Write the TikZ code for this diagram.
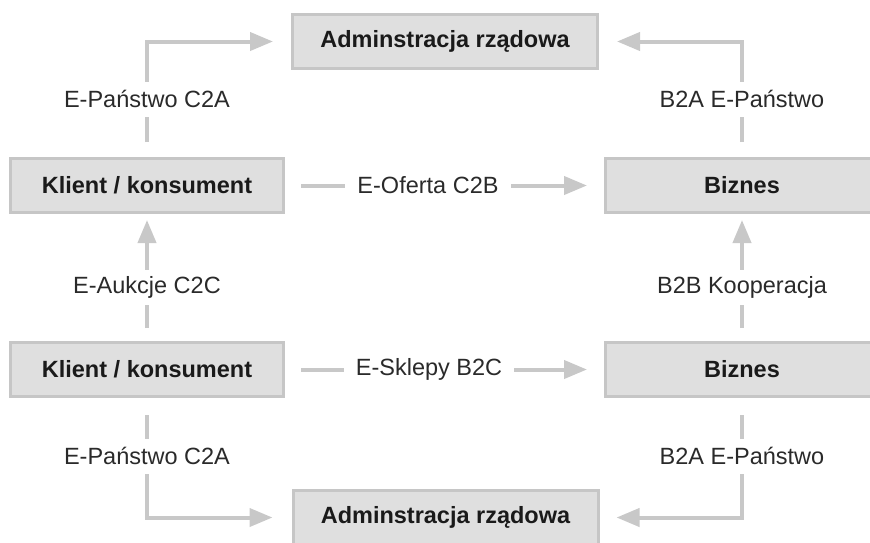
\documentclass[tikz,border=0pt]{standalone}
\usepackage{fontspec}
\setmainfont{Liberation Sans}
\usetikzlibrary{arrows.meta}
\definecolor{boxline}{HTML}{C6C6C6}
\definecolor{boxfill}{HTML}{DFDFDF}
\definecolor{arrgrey}{HTML}{C8C8C8}
\definecolor{txt}{HTML}{2A2A2A}
\definecolor{boldtxt}{HTML}{1A1A1A}
\tikzset{
  box/.style={draw=boxline, fill=boxfill, line width=3pt, minimum width=273pt,
    minimum height=54pt, inner sep=0pt, text=boldtxt,
    font=\bfseries\fontsize{23.5}{28}\selectfont},
  widebox/.style={box, minimum width=305pt},
  arr/.style={draw=arrgrey, line width=4pt, -{Triangle[length=23pt,width=18pt]}},
  lbl/.style={fill=white, inner xsep=12pt, inner ysep=0pt, minimum height=35pt,
    text=txt, font=\fontsize{23.5}{28}\selectfont}
}
\begin{document}
\begin{tikzpicture}[x=1pt,y=-1pt]
\useasboundingbox (0,0) rectangle (870,542);
\clip (0,0) rectangle (870,542);
% boxes
\node[widebox] (adm1) at (445,41.5) {Adminstracja rządowa};
\node[box] (k1) at (147,185.5) {Klient / konsument};
\node[box] (b1) at (742,185.5) {Biznes};
\node[box] (k2) at (147,369.5) {Klient / konsument};
\node[box] (b2) at (742,369.5) {Biznes};
\node[widebox] (adm2) at (445.5,517.5) {Adminstracja rządowa};
% connectors
\draw[arr] ([yshift=15pt]k1.north) |- ([xshift=-18pt]adm1.west);
\draw[arr] ([yshift=15pt]b1.north) |- ([xshift=18pt]adm1.east);
\draw[arr] ([xshift=16pt]k1.east) -- ([xshift=-17pt]b1.west);
\draw[arr] ([xshift=16pt]k2.east) -- ([xshift=-17pt]b2.west);
\draw[arr] ([yshift=13pt]k2.north) -- ([yshift=-6pt]k1.south);
\draw[arr] ([yshift=13pt]b2.north) -- ([yshift=-6pt]b1.south);
\draw[arr] ([yshift=-17pt]k2.south) |- ([xshift=-19pt]adm2.west);
\draw[arr] ([yshift=-17pt]b2.south) |- ([xshift=17pt]adm2.east);
% labels
\node[lbl] (l1) at (147,99) {E-Państwo C2A};
\node[lbl] (l2) at (742,99) {B2A E-Państwo};
\node[lbl] (l3) at (428,185) {E-Oferta C2B};
\node[lbl] (l4) at (147,287) {E-Aukcje C2C};
\node[lbl] (l5) at (742,287) {B2B Kooperacja};
\node[lbl] (l6) at (429,369) {E-Sklepy B2C};
\node[lbl] (l7) at (147,456) {E-Państwo C2A};
\node[lbl] (l8) at (742,456) {B2A E-Państwo};
\end{tikzpicture}
\end{document}
